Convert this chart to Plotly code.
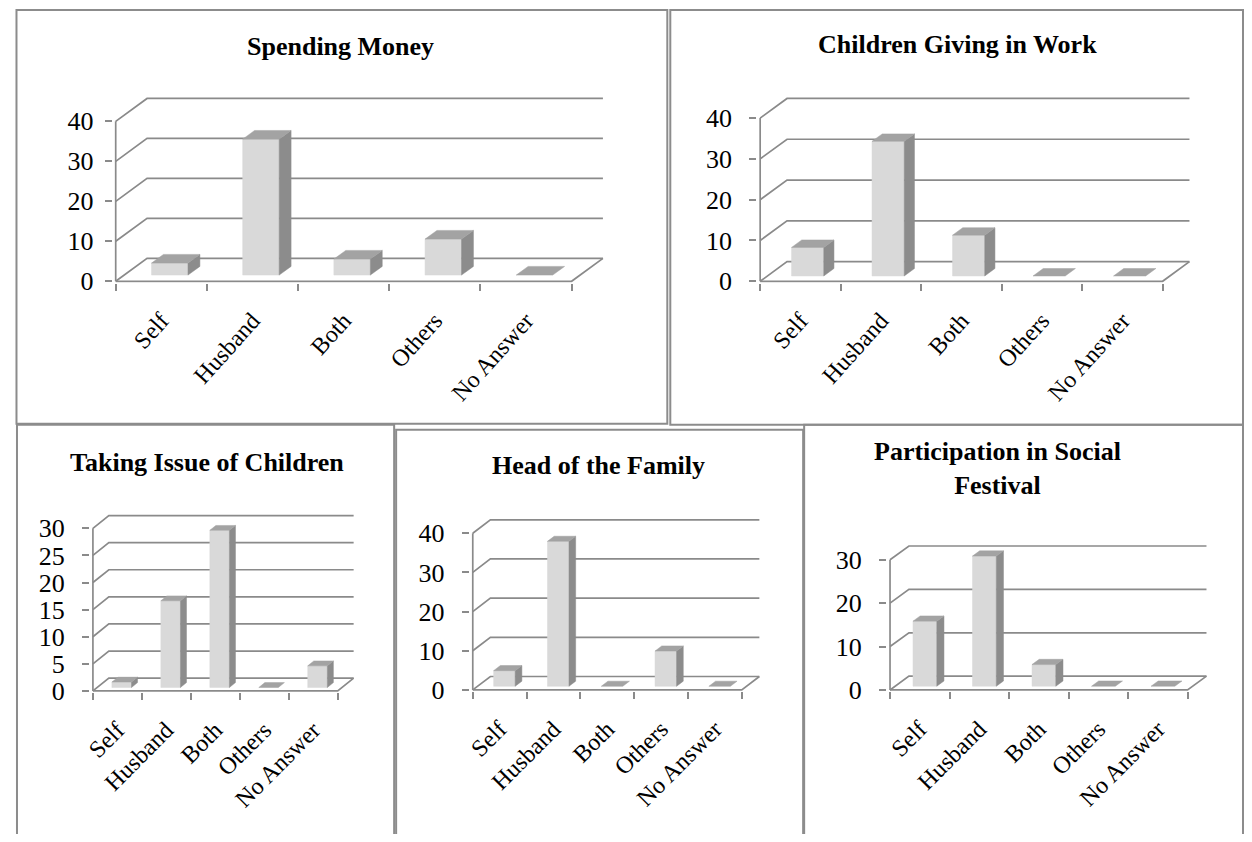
import plotly.graph_objects as go

W, H = 1252, 842           # target window
OFF = 8                    # default page body margin of the html page
FW, FH = W - 2 * OFF, H - 2 * OFF  # figure plus body margins fill the window exactly

# ---------------- data ----------------
categories = ["Self", "Husband", "Both", "Others", "No Answer"]
titles = ["Spending Money", "Children Giving in Work", "Taking Issue of Children",
          "Head of the Family", "Participation in Social<br>Festival"]
spending_money = [3, 34, 4, 9, 0]
children_giving_in_work = [7, 33, 10, 0, 0]
taking_issue_of_children = [1, 16, 29, 0, 4]
head_of_the_family = [4, 37, 0, 9, 0]
participation_in_social_festival = [15, 30, 5, 0, 0]
ticks_40 = [0, 10, 20, 30, 40]
ticks_30_by5 = [0, 5, 10, 15, 20, 25, 30]
ticks_30 = [0, 10, 20, 30]

# ---------------- layout geometry (window pixels) ----------------
panels = [
    dict(title=titles[0], values=spending_money, yticks=ticks_40, ax_x=110.2, y0=286, ytop=123.3,
         dx=31.5, dy=23.3, fr=568.3, tx=336.5, ty=47, standoff=6, angle=-48),
    dict(title=titles[1], values=children_giving_in_work, yticks=ticks_40, ax_x=757.8, y0=286, ytop=120,
         dx=27, dy=20, fr=1162.2, tx=956, ty=45, standoff=12, angle=-48),
    dict(title=titles[2], values=taking_issue_of_children, yticks=ticks_30_by5, ax_x=87.3, y0=702.7, ytop=537.3,
         dx=16, dy=13, fr=333.3, tx=201.7, ty=470, standoff=12, angle=-45),
    dict(title=titles[3], values=head_of_the_family, yticks=ticks_40, ax_x=469, y0=701.7, ytop=542.3,
         dx=17.7, dy=13.7, fr=739.3, tx=595, ty=473, standoff=12, angle=-45),
    dict(title=titles[4], values=participation_in_social_festival, yticks=ticks_30, ax_x=888.3, y0=701.7, ytop=569.3,
         dx=19, dy=14, fr=1187.3, tx=996, ty=476, standoff=12, angle=-45),
]

boxes = [(10.5, 10, 664.5, 431), (667.5, 10, 1243, 432), (11, 432, 390, 860),
         (392, 437, 801, 860), (802, 432, 1243, 860)]

GRID = "#8a8a8a"
FRONT = "#d9d9d9"
SIDE = "#8c8c8c"
TOP = "#a3a3a3"
FONT = "Times New Roman, Liberation Serif, serif"
BW, F, D = 0.40, 0.27, 0.38
PADL, PADR, PADT, PADB = 3, 3, 3, 1.5


def px_x(px):
    return (px - OFF) / FW


def px_y(py):
    return 1 - (py - OFF) / FH


fig = go.Figure()
layout = {}
annotations = []

for n, p in enumerate(panels, start=1):
    xa = "x" if n == 1 else f"x{n}"
    ya = "y" if n == 1 else f"y{n}"
    vals = p["values"]
    ncat = len(categories)
    ymax = p["yticks"][-1]
    w = (p["fr"] - p["ax_x"]) / ncat
    DX = p["dx"] / w
    k = (p["y0"] - p["ytop"]) / ymax
    DY = p["dy"] / k
    left, right = -0.5, ncat - 0.5

    # back wall grid lines with diagonal to front axis
    gx, gy = [], []
    for t in p["yticks"]:
        gx += [left, left + DX, right + DX, None]
        gy += [t, t + DY, t + DY, None]
    # floor front edge + right edge
    gx += [left, right, right + DX, None]
    gy += [0, 0, DY, None]
    # front vertical axis
    gx += [left, left]
    gy += [0, ymax]
    fig.add_trace(go.Scatter(x=gx, y=gy, mode="lines", line=dict(color=GRID, width=1.7),
                             xaxis=xa, yaxis=ya, hoverinfo="skip", showlegend=False))

    fx, fy, sx, sy, tx_, ty_ = [], [], [], [], [], []
    for i, v in enumerate(vals):
        xl = i - BW / 2 + F * DX
        xr = xl + BW
        yb = F * DY
        top = v + yb
        ox, oy = D * DX, D * DY
        if v > 0:
            fx += [xl, xr, xr, xl, xl, None]
            fy += [yb, yb, top, top, yb, None]
            sx += [xr, xr + ox, xr + ox, xr, xr, None]
            sy += [yb, yb + oy, top + oy, top, yb, None]
        tx_ += [xl, xr, xr + ox, xl + ox, xl, None]
        ty_ += [top, top, top + oy, top + oy, top, None]
    for xs, ys, col in ((fx, fy, FRONT), (sx, sy, SIDE), (tx_, ty_, TOP)):
        if xs:
            fig.add_trace(go.Scatter(x=xs, y=ys, mode="lines", fill="toself", fillcolor=col,
                                     line=dict(color=col, width=0.5), xaxis=xa, yaxis=ya,
                                     hoverinfo="skip", showlegend=False))

    xdom = [px_x(p["ax_x"] - PADL), px_x(p["fr"] + p["dx"] + PADR)]
    ydom = [px_y(p["y0"] + PADB), px_y(p["ytop"] - p["dy"] - PADT)]
    layout["xaxis" if n == 1 else f"xaxis{n}"] = dict(
        domain=xdom, range=[left - PADL / w, right + DX + PADR / w], anchor=ya,
        showgrid=False, zeroline=False, showline=False,
        tickmode="array", tickvals=list(range(ncat)), ticktext=categories,
        ticks="", tickangle=p["angle"], ticklabelstandoff=18,
        tickfont=dict(family=FONT, size=24, color="black"),
        minor=dict(tickmode="array", tickvals=[b - 0.5 for b in range(ncat + 1)], ticks="outside",
                   ticklen=7, tickwidth=1.6, tickcolor=GRID, showgrid=False),
        fixedrange=True)
    layout["yaxis" if n == 1 else f"yaxis{n}"] = dict(
        domain=ydom, range=[-PADB / k, ymax + DY + PADT / k], anchor=xa,
        showgrid=False, zeroline=False, showline=False,
        tickmode="array", tickvals=p["yticks"], ticks="outside", ticklen=7, tickwidth=1.6,
        tickcolor=GRID, ticklabelstandoff=p["standoff"],
        tickfont=dict(family=FONT, size=26, color="black"), fixedrange=True)
    annotations.append(dict(text=f"<b>{p['title']}</b>", x=px_x(p["tx"]), y=px_y(p["ty"]),
                            xref="paper", yref="paper", xanchor="center", yanchor="middle",
                            showarrow=False, font=dict(family=FONT, size=26, color="black")))

shapes = []
for (x0, y0, x1, y1) in boxes:
    shapes.append(dict(type="rect", xref="paper", yref="paper", x0=px_x(x0), x1=px_x(x1),
                       y0=px_y(y1), y1=px_y(y0), line=dict(color="#8c8c8c", width=2),
                       fillcolor="rgba(0,0,0,0)", layer="below"))

fig.update_layout(width=FW, height=FH, margin=dict(l=0, r=0, t=0, b=0),
                  paper_bgcolor="white", plot_bgcolor="rgba(0,0,0,0)",
                  annotations=annotations, shapes=shapes, **layout)

fig.write_html("out.html")
